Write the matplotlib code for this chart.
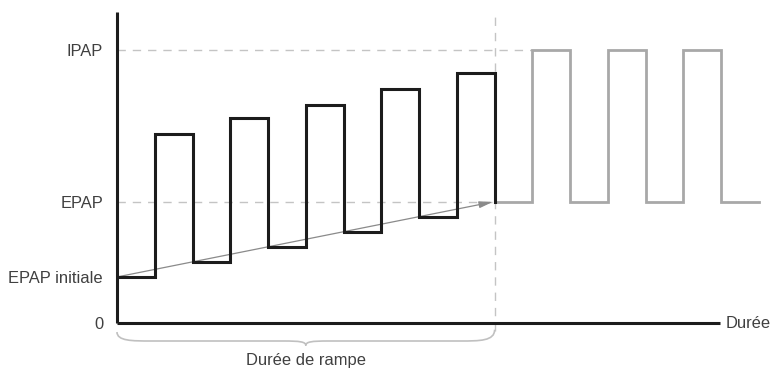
import matplotlib
matplotlib.use("Agg")
import matplotlib.pyplot as plt
from matplotlib.path import Path
from matplotlib.patches import PathPatch

# ---- data ----
ramp_low = [3.07, 4.07, 5.07, 6.07, 7.07]      # expiratory levels during ramp
ramp_high = [12.6, 13.67, 14.53, 15.6, 16.67]  # inspiratory levels during ramp
epap_init = 3.07
epap = 8.07
ipap = 18.2
n_after = 3  # cycles after the ramp
tick_values = [0, epap_init, epap, ipap]
tick_labels = ["0", "EPAP initiale", "EPAP", "IPAP"]
xlabel = "Durée"
ramp_label = "Durée de rampe"

# build step sequences (each half-cycle lasts one time unit)
falls = ramp_low[1:] + [epap]
t_ramp, p_ramp = [0], [ramp_low[0]]
t = 0
for i, (lo, hi) in enumerate(zip(ramp_low, ramp_high)):
    t_ramp += [t + 1, t + 1, t + 2, t + 2]
    p_ramp += [lo, hi, hi, falls[i]]
    t += 2
t_end = t

t_after, p_after = [t_end], [epap]
for i in range(n_after):
    t_after += [t + 1, t + 1, t + 2, t + 2]
    p_after += [epap, ipap, ipap, epap]
    t += 2
t_after.append(t + 1)
p_after.append(epap)

W, H = 773, 370
fig = plt.figure(figsize=(W / 100, H / 100), dpi=100)
x0, y0 = 117, 323
px_x, px_y = 37.76, 15.0
ax = fig.add_axes([x0 / W, (H - y0) / H, (W - x0) / W, y0 / H])
ax.set_xlim(0, (W - x0) / px_x)
ax.set_ylim(0, y0 / px_y)
for s in ax.spines.values():
    s.set_visible(False)

font = "Liberation Sans"
tc = "#404040"
fs = 11.9
ytop = (y0 - 12) / px_y
xaxis_end = (720 - x0) / px_x

# guide lines
dash = dict(color="#c4c4c4", lw=1.0, dashes=(6, 5))
ax.plot([0, t_end + 1], [ipap, ipap], **dash)
ax.plot([0, t_end], [epap, epap], **dash)
ax.plot([t_end, t_end], [-0.5, ytop], clip_on=False, **dash)

# ramp arrow
ax.annotate("", xy=(t_end - 0.05, epap), xytext=(0, epap_init),
            arrowprops=dict(arrowstyle="-|>,head_length=0.8,head_width=0.2",
                            color="#8a8a8a", lw=0.9, shrinkA=0, shrinkB=0))

# steps
ax.plot(t_after, p_after, color="#a8a8a8", lw=2.0, solid_joinstyle="miter", zorder=3)
ax.plot(t_ramp, p_ramp, color="#1c1c1c", lw=2.2, solid_joinstyle="miter", zorder=4)

# axes lines
ax.plot([0, 0], [0, ytop], color="#1c1c1c", lw=2.2, clip_on=False, zorder=5,
        solid_capstyle="butt")
ax.plot([0, xaxis_end], [0, 0], color="#1c1c1c", lw=2.2, clip_on=False, zorder=5,
        solid_capstyle="butt")

ax.set_xticks([])
ax.set_yticks(tick_values)
ax.set_yticklabels(tick_labels, fontfamily=font, fontsize=fs, color=tc)
ax.tick_params(axis="y", length=0, pad=10)

ax.text(xaxis_end + 0.15, 0, xlabel, ha="left", va="center", fontfamily=font,
        fontsize=fs, color=tc, clip_on=False)

# brace
ya, yb, yc = -0.6, -1.2, -1.5
mid = t_end / 2
verts = [
    (0, ya), (0, yb), (0.4, yb), (0.9, yb),
    (mid - 0.6, yb),
    (mid - 0.15, yb), (mid, yb - 0.05), (mid, yc),
    (mid, yb - 0.05), (mid + 0.15, yb), (mid + 0.6, yb),
    (t_end - 0.9, yb),
    (t_end - 0.4, yb), (t_end, yb), (t_end, ya + 0.15),
]
codes = [Path.MOVETO, Path.CURVE4, Path.CURVE4, Path.CURVE4,
         Path.LINETO,
         Path.CURVE4, Path.CURVE4, Path.CURVE4,
         Path.CURVE4, Path.CURVE4, Path.CURVE4,
         Path.LINETO,
         Path.CURVE4, Path.CURVE4, Path.CURVE4]
brace = PathPatch(Path(verts, codes), facecolor="none", edgecolor="#c0c0c0",
                  lw=1.2, clip_on=False)
ax.add_patch(brace)
ax.text(mid, -(360 - y0) / px_y, ramp_label, ha="center", va="center",
        fontfamily=font, fontsize=fs, color=tc, clip_on=False)

fig.savefig("out.png", dpi=100)
